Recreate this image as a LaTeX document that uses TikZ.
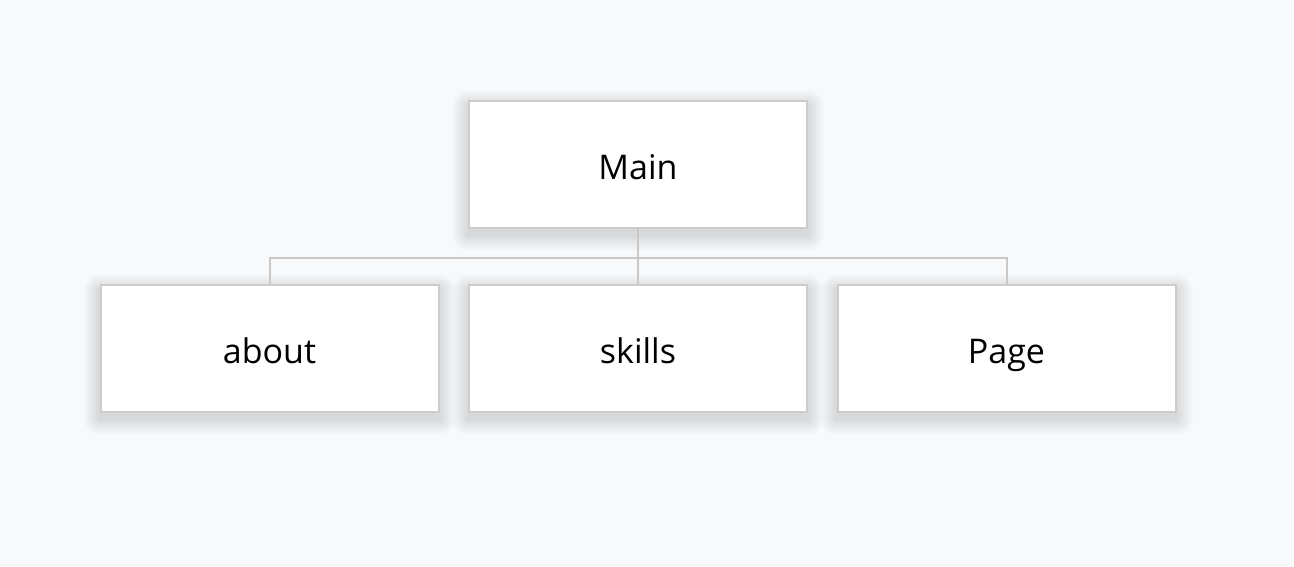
\documentclass[tikz,border=0pt]{standalone}
\usepackage{fontspec}
\setmainfont{Open Sans}
\usetikzlibrary{backgrounds}

\definecolor{pagebg}{HTML}{F8F9FA}
\definecolor{boxline}{HTML}{CCCCCC}
\definecolor{linkline}{HTML}{C8C8C8}

\tikzset{
    pagebox/.style={draw=boxline, line width=2pt, fill=white, minimum width=338pt, minimum height=127pt,
        inner sep=0pt, text height=29pt, text depth=0pt, font=\fontsize{34}{40}\selectfont},
    link/.style={draw=linkline, line width=2pt},
    softshadow/.style={fill=black, opacity=0.006}
}

\begin{document}
\begin{tikzpicture}[x=1pt, y=-1pt]
    \useasboundingbox (0,0) rectangle (1294,566);

    % Draw nodes
    \node[pagebox] (main) at (638, 164.5) {Main};
    \node[pagebox] (about) at (269.5, 348.5) {about};
    \node[pagebox] (skills) at (638, 348.5) {skills};
    \node[pagebox] (page) at (1006.5, 348.5) {Page};
    \coordinate (bus) at (638, 258);

    % Draw edges
    \draw[link] (main.south) -- (bus);
    \draw[link] (about.north) |- (bus) -| (page.north);
    \draw[link] (bus) -- (skills.north);

    % Page and soft shadows behind the boxes
    \begin{scope}[on background layer]
        \fill[pagebg] (0,0) rectangle (1294,566);
        \foreach \n in {main, about, skills, page}
            \foreach \r in {1,...,16}
                \fill[softshadow, rounded corners=\r pt]
                    ([xshift=-\r pt, yshift=-\r pt-6pt]\n.south west) rectangle ([xshift=\r pt, yshift=\r pt-6pt]\n.north east);
    \end{scope}
\end{tikzpicture}
\end{document}
